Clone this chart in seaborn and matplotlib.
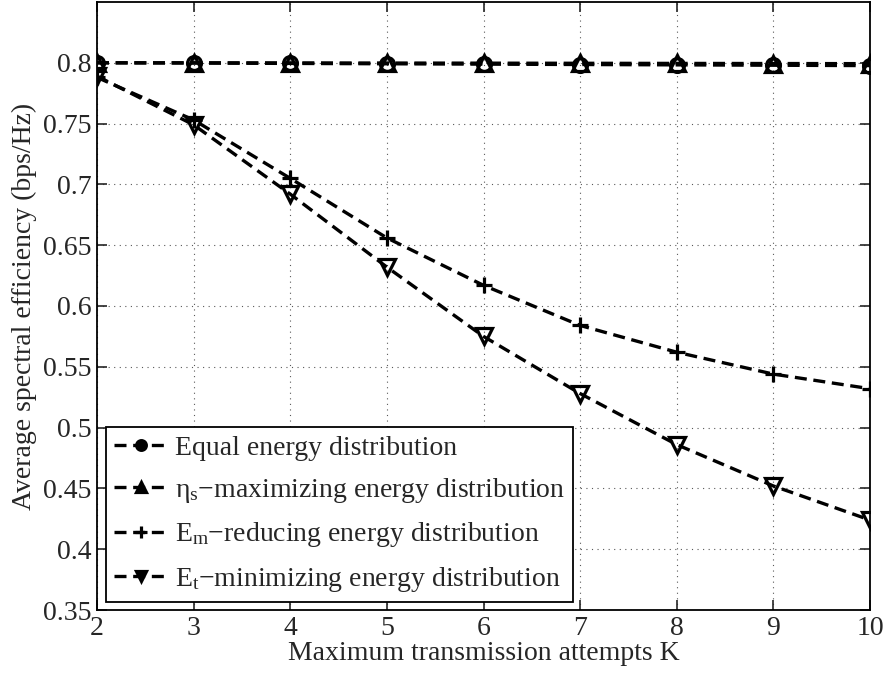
import matplotlib
matplotlib.use("Agg")
import matplotlib.pyplot as plt
import seaborn as sns
import numpy as np

K = [2, 3, 4, 5, 6, 7, 8, 9, 10]
equal_energy = [0.800, 0.7998, 0.7995, 0.7992, 0.7989, 0.7986, 0.7983, 0.7980, 0.7977]
eta_max = [0.800, 0.8000, 0.7999, 0.7998, 0.7997, 0.7996, 0.7995, 0.7994, 0.7993]
em_reducing = [0.788, 0.753, 0.705, 0.656, 0.617, 0.584, 0.562, 0.544, 0.532]
et_minimizing = [0.789, 0.749, 0.692, 0.632, 0.575, 0.528, 0.486, 0.452, 0.424]

labels = ["Equal energy distribution",
          "$\\eta_s$\u2212maximizing energy distribution",
          "$E_m$\u2212reducing energy distribution",
          "$E_t$\u2212minimizing energy distribution"]
yticks = [0.35, 0.4, 0.45, 0.5, 0.55, 0.6, 0.65, 0.7, 0.75, 0.8]
ytick_labels = ["0.35", "0.4", "0.45", "0.5", "0.55", "0.6", "0.65", "0.7", "0.75", "0.8"]

sns.set_theme(style="ticks")
plt.rcParams["font.family"] = ["Liberation Serif", "DejaVu Serif"]
plt.rcParams["mathtext.fontset"] = "custom"
plt.rcParams["mathtext.rm"] = "Liberation Serif"
plt.rcParams["mathtext.it"] = "Liberation Serif"
plt.rcParams["mathtext.default"] = "rm"

fig = plt.figure(figsize=(8.86, 6.76), dpi=100)
ax = fig.add_axes([97 / 886, 1 - 610 / 676, 773 / 886, 608 / 676])

series = [(equal_energy, "o", 10), (eta_max, "^", 11), (em_reducing, "+", 12), (et_minimizing, "v", 11)]
for (vals, mk, ms), lab in zip(series, labels):
    sns.lineplot(x=K, y=vals, ax=ax, color="black", linestyle=(0, (3.6, 2.0)), linewidth=2.4,
                 marker=mk, markersize=ms, markerfacecolor="none", markeredgecolor="black",
                 markeredgewidth=2.3, label=lab)

for line in ax.get_lines():
    line.set_linewidth(2.4)
    line.set_markeredgecolor("black")

ax.set_xlim(2, 10)
ax.set_ylim(0.35, 0.85)
ax.set_xticks(K)
ax.set_xticklabels([str(k) for k in K])
ax.set_yticks(yticks)
ax.set_yticklabels(ytick_labels)
ax.grid(True, color="0.35", linestyle=(0, (1, 4)), linewidth=0.8)
ax.tick_params(direction="in", length=7, width=1.2, labelsize=20, top=True, right=True, pad=4)
for s in ax.spines.values():
    s.set_visible(True)
    s.set_linewidth(1.3)
    s.set_color("black")

ax.set_xlabel("Maximum transmission attempts K", fontsize=20, labelpad=0)
ax.set_ylabel("Average spectral efficiency (bps/Hz)", fontsize=20, labelpad=4)

leg = ax.legend(loc="lower left", bbox_to_anchor=(9 / 773, 8 / 608), borderaxespad=0,
                fontsize=20, frameon=True, fancybox=False, edgecolor="black",
                handlelength=1.9, handletextpad=0.28, labelspacing=0.55, borderpad=0.3,
                markerscale=0.7)
leg.get_frame().set_linewidth(1.3)
leg.get_frame().set_alpha(1)
for h in leg.get_lines():
    h.set_markerfacecolor("black")

fig.savefig("out.png", dpi=100)
